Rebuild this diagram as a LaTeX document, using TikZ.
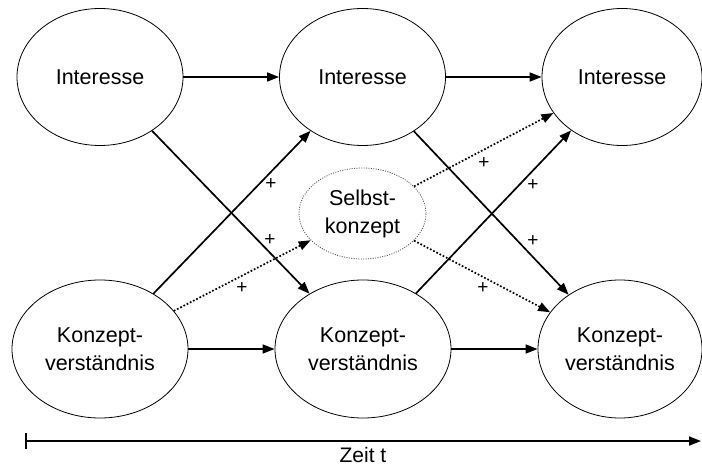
\documentclass[tikz,border=0pt]{standalone}
\usepackage{fontspec}
\setmainfont{Liberation Sans}
\usetikzlibrary{shapes.geometric,arrows.meta}
\begin{document}
\begin{tikzpicture}[x=1pt,y=-1pt,
  varbox/.style={ellipse,draw,line width=0.8pt,inner sep=0pt,align=center,
    font=\fontsize{21.5}{28}\selectfont},
  topbox/.style={varbox,minimum width=166pt,minimum height=137pt},
  botbox/.style={varbox,minimum width=176pt,minimum height=138pt},
  selfbox/.style={ellipse,draw=black!70,line width=0.8pt,dash pattern=on 1pt off 1.4pt,
    inner sep=0pt,align=center,minimum width=127pt,minimum height=91pt,
    font=\fontsize{21.5}{28}\selectfont},
  link/.style={line width=1.7pt,-{Triangle[length=12pt,width=9pt]}},
  dotlink/.style={line width=1.7pt,dash pattern=on 1.7pt off 1.9pt,-{Triangle[length=12pt,width=9pt]}},
  plus/.style={font=\fontsize{19}{19}\selectfont,inner sep=0pt}]
\useasboundingbox (0,0) rectangle (702,465);
\node[topbox] (i1) at (100,77) {Interesse};
\node[topbox] (i2) at (362.5,77) {Interesse};
\node[topbox,minimum width=160pt] (i3) at (622,77) {Interesse};
\node[botbox] (k1) at (100,349) {Konzept-\\verständnis};
\node[botbox] (k2) at (363,349) {Konzept-\\verständnis};
\node[botbox,minimum width=164pt] (k3) at (620,349) {Konzept-\\verständnis};
\node[selfbox] (s) at (362.5,213.5) {Selbst-\\konzept};
\draw[link] (i1) -- (i2);
\draw[link] (i2) -- (i3);
\draw[link] (k1) -- (k2);
\draw[link] (k2) -- (k3);
\draw[link] (i1) -- (k2);
\draw[link] (k1) -- (i2);
\draw[link] (i2) -- (k3);
\draw[link] (k2) -- (i3);
\draw[dotlink] (k1) -- (s);
\draw[dotlink] (s) -- (i3);
\draw[dotlink] (s) -- (k3);
\node[plus] (p1) at (271,184) {+};
\node[plus] (p2) at (270,240) {+};
\node[plus] (p3) at (242,288) {+};
\node[plus] (p4) at (484,163) {+};
\node[plus] (p5) at (533,185) {+};
\node[plus] (p6) at (533,241) {+};
\node[plus] (p7) at (483,288) {+};
\coordinate (t0) at (25,441);
\coordinate (t1) at (701,441);
\draw[line width=1.7pt,{Bar[width=16pt]}-{Triangle[length=12pt,width=9pt]}] (t0) -- (t1);
\node[font=\fontsize{21}{27}\selectfont,inner sep=0pt,anchor=base] (zt) at (363,462) {Zeit t};
\end{tikzpicture}
\end{document}
